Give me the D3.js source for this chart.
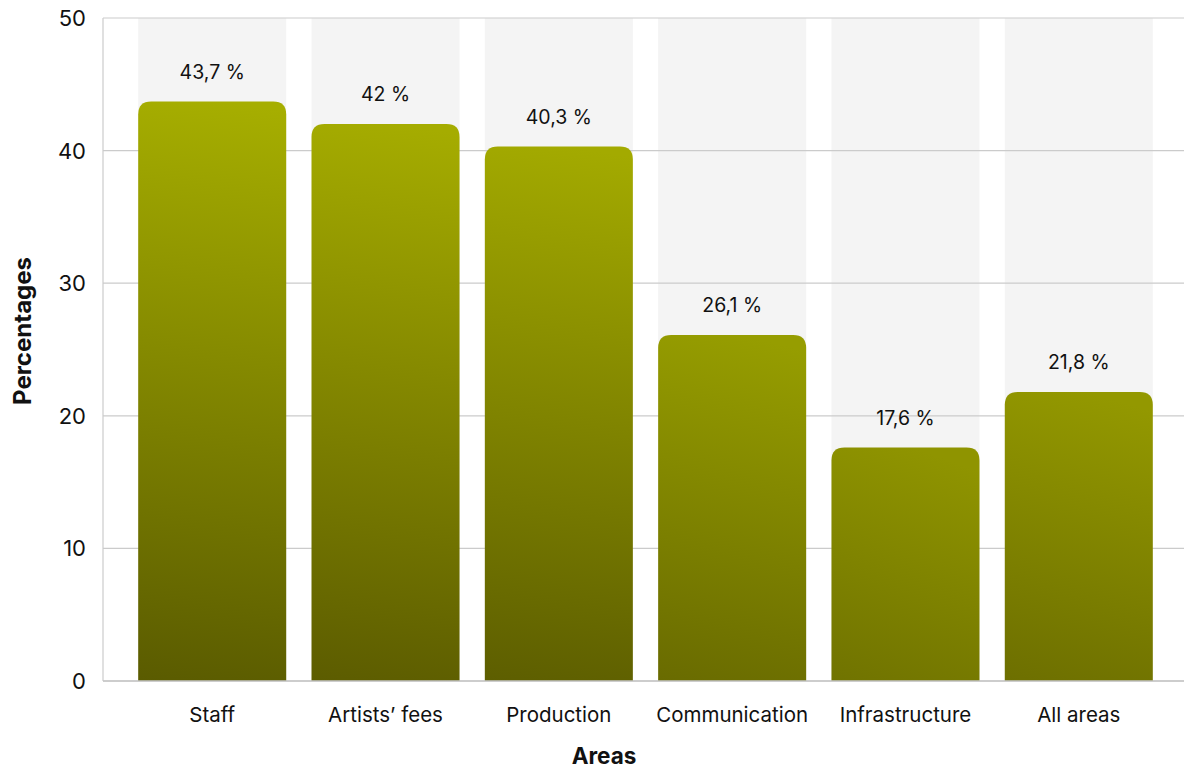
<!DOCTYPE html>
<html>
<head>
<meta charset="utf-8">
<script src="https://cdn.jsdelivr.net/npm/d3@7"></script>
<style>
  html, body { margin: 0; padding: 0; background: #fff; }
  svg { display: block; }
  text { font-family: Inter, "Liberation Sans", Arial, sans-serif; fill: #111; }
</style>
</head>
<body>
<svg id="chart" width="1184" height="769"></svg>
<script>
// Share of organisations by area (percent)
const categories = ["Staff", "Artists\u2019 fees", "Production", "Communication", "Infrastructure", "All areas"];
const values = [43.7, 42, 40.3, 26.1, 17.6, 21.8];
const valueLabels = ["43,7 %", "42 %", "40,3 %", "26,1 %", "17,6 %", "21,8 %"];
const yTicks = [0, 10, 20, 30, 40, 50];

const W = 1184, H = 769;
const margin = { left: 103, right: 0, top: 18, bottom: 88 };
const svg = d3.select("#chart");

const x = d3.scaleBand()
  .domain(categories)
  .range([margin.left + 4, W])
  .paddingInner(0.146)
  .paddingOuter(0.18);

const y = d3.scaleLinear()
  .domain([0, 50])
  .range([H - margin.bottom, margin.top]);

const defs = svg.append("defs");

// Background column behind each bar
svg.append("g").selectAll("rect")
  .data(categories)
  .join("rect")
  .attr("x", d => x(d))
  .attr("y", y(50))
  .attr("width", x.bandwidth())
  .attr("height", y(0) - y(50))
  .attr("fill", "#f4f4f4");

// Horizontal gridlines
svg.append("g").selectAll("line")
  .data(yTicks)
  .join("line")
  .attr("x1", margin.left)
  .attr("x2", W)
  .attr("y1", d => y(d))
  .attr("y2", d => y(d))
  .attr("stroke", "#cbcbcb")
  .attr("stroke-width", 1.2);

// Left axis line
svg.append("line")
  .attr("x1", margin.left).attr("x2", margin.left)
  .attr("y1", y(50)).attr("y2", y(0))
  .attr("stroke", "#cbcbcb")
  .attr("stroke-width", 1.2);

// Y tick labels
svg.append("g").selectAll("text")
  .data(yTicks)
  .join("text")
  .attr("x", 86)
  .attr("y", d => y(d))
  .attr("dy", "0.36em")
  .attr("text-anchor", "end")
  .attr("font-size", 22)
  .text(d => d);

// Bar colours shift with bar height: taller bars get a wider light-to-dark range
const base = d3.color("#7f8300");
const light = d3.interpolateRgb(base, "#acb400");
const dark = d3.interpolateRgb(base, "#555500");

const bars = categories.map((c, i) => ({ c, v: values[i], label: valueLabels[i], i }));

bars.forEach(b => {
  const x0 = x(b.c), yt = y(b.v), yb = y(0);
  const t = b.v / 50;
  const g = defs.append("linearGradient")
    .attr("id", "grad" + b.i)
    .attr("gradientUnits", "userSpaceOnUse")
    .attr("x1", x0)
    .attr("y1", yb)
    .attr("x2", x0 + x.bandwidth() * 0.55)
    .attr("y2", yt);
  g.append("stop").attr("offset", 0).attr("stop-color", dark(t));
  g.append("stop").attr("offset", 1).attr("stop-color", light(t));
});

function topRounded(x0, y0, w, h, r) {
  return `M${x0},${y0 + h}` +
    `V${y0 + r}` +
    `Q${x0},${y0} ${x0 + r},${y0}` +
    `H${x0 + w - r}` +
    `Q${x0 + w},${y0} ${x0 + w},${y0 + r}` +
    `V${y0 + h}Z`;
}

svg.append("g").selectAll("path")
  .data(bars)
  .join("path")
  .attr("d", b => topRounded(x(b.c), y(b.v), x.bandwidth(), y(0) - y(b.v), 13))
  .attr("fill", b => `url(#grad${b.i})`);

// Bottom axis line
svg.append("line")
  .attr("x1", margin.left).attr("x2", W)
  .attr("y1", y(0)).attr("y2", y(0))
  .attr("stroke", "#c4c4c4")
  .attr("stroke-width", 1.5);

// Value labels
svg.append("g").selectAll("text")
  .data(bars)
  .join("text")
  .attr("x", b => x(b.c) + x.bandwidth() / 2)
  .attr("y", b => y(b.v) - 23)
  .attr("text-anchor", "middle")
  .attr("font-size", 19.5)
  .text(b => b.label);

// Category labels
svg.append("g").selectAll("text")
  .data(categories)
  .join("text")
  .attr("x", d => x(d) + x.bandwidth() / 2)
  .attr("y", 722)
  .attr("text-anchor", "middle")
  .attr("font-size", 20.5)
  .text(d => d);

// Axis titles
svg.append("text")
  .attr("x", 604)
  .attr("y", 764)
  .attr("text-anchor", "middle")
  .attr("font-size", 22.5)
  .attr("font-weight", "bold")
  .text("Areas");

svg.append("text")
  .attr("transform", "translate(31,331) rotate(-90)")
  .attr("text-anchor", "middle")
  .attr("font-size", 24)
  .attr("font-weight", "bold")
  .text("Percentages");
</script>
</body>
</html>
